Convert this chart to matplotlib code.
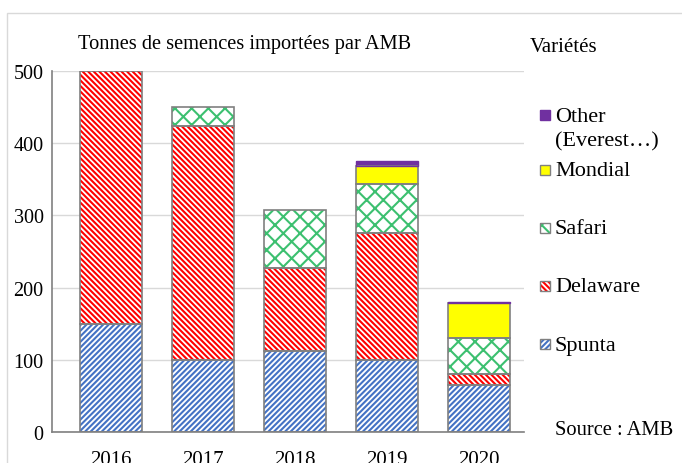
import matplotlib
matplotlib.use("Agg")
import matplotlib.pyplot as plt
from matplotlib.patches import Rectangle
import numpy as np

plt.rcParams['font.family'] = ['Liberation Serif', 'DejaVu Serif']
plt.rcParams['hatch.linewidth'] = 1.5

years = ["2016", "2017", "2018", "2019", "2020"]
spunta = [150, 100, 112, 100, 65]
delaware = [350, 324, 115, 175, 15]
safari = [0, 26, 81, 68, 50]
mondial = [0, 0, 0, 25, 48]
other = [0, 0, 0, 8, 2]

series = [
    ("Spunta", spunta, dict(face="white", hcol="#4472C4", hatch="//////")),
    ("Delaware", delaware, dict(face="white", hcol="#FF0000", hatch="\\\\\\\\\\\\")),
    ("Safari", safari, dict(face="white", hcol="#3CC070", hatch="xx")),
    ("Mondial", mondial, dict(face="#FFFF00", hcol=None, hatch=None)),
    ("Other (Everest…)", other, dict(face="#7030A0", hcol=None, hatch=None)),
]

fig = plt.figure(figsize=(6.82, 4.64), dpi=100)
ax = fig.add_axes([52/682, 1-433/464, (524-52)/682, (433-72)/464])

x = np.arange(len(years))
width = 0.67
bottom = np.zeros(len(years))
for name, vals, st in series:
    vals = np.array(vals, dtype=float)
    m = vals > 0
    xs, vs, bs = x[m], vals[m], bottom[m]
    if st["hatch"]:
        ax.bar(xs, vs, width, bottom=bs, color=st["face"], edgecolor=st["hcol"],
               hatch=st["hatch"], linewidth=0, zorder=2)
    else:
        ax.bar(xs, vs, width, bottom=bs, color=st["face"], linewidth=0, zorder=2)
    if name.startswith("Other"):
        ax.bar(xs, vs, width, bottom=bs, fill=False, edgecolor=st["face"], linewidth=1.0, zorder=3)
    else:
        ax.bar(xs, vs, width, bottom=bs, fill=False, edgecolor="#808080", linewidth=1.2, zorder=3)
    bottom += vals

ax.set_xlim(-0.64, 4.49)
ax.set_ylim(0, 500)
ax.set_yticks([0, 100, 200, 300, 400, 500])
ax.set_xticks(x)
ax.set_xticklabels(years)
ax.grid(axis='y', color="#D9D9D9", linewidth=1.0, zorder=0)
ax.set_axisbelow(True)
for s in ["top", "right"]:
    ax.spines[s].set_visible(False)
ax.spines["left"].set_color("#808080")
ax.spines["bottom"].set_color("#808080")
ax.spines["left"].set_linewidth(1.2)
ax.spines["bottom"].set_linewidth(1.2)
ax.tick_params(axis='y', length=0, labelsize=14.5, pad=6)
ax.tick_params(axis='x', length=0, labelsize=15, pad=13)

fig.text(78/682, 1-45/464, "Tonnes de semences importées par AMB", fontsize=14.7, va="center", ha="left")
fig.text(530/682, 1-48/464, "Variétés", fontsize=15, va="center", ha="left")
fig.text(555/682, 1-431/464, "Source : AMB", fontsize=14.8, va="center", ha="left")

# legend entries drawn manually in figure coords
leg_items = [
    (series[4][2], 117, "Other", True),
    (None, 142, "(Everest…)", False),
    (series[3][2], 172, "Mondial", False),
    (series[2][2], 230, "Safari", False),
    (series[1][2], 288, "Delaware", False),
    (series[0][2], 346, "Spunta", False),
]
for st, ypx, txt, noedge in leg_items:
    if st is not None:
        x0, y0 = 540/682, 1-(ypx+4)/464
        w, h = 10/682, 10/464
        fig.add_artist(Rectangle((x0, y0), w, h, transform=fig.transFigure,
                                 facecolor=st["face"], edgecolor="none"))
        if st["hatch"]:
            fig.add_artist(Rectangle((x0, y0), w, h, transform=fig.transFigure,
                                     facecolor="none", edgecolor=st["hcol"], hatch=st["hatch"], linewidth=0))
        fig.add_artist(Rectangle((x0, y0), w, h, transform=fig.transFigure,
                                 facecolor="none", edgecolor=(st["face"] if noedge else "#808080"), linewidth=1.0))
    fig.text(555/682, 1-ypx/464, txt, fontsize=16, va="center", ha="left")

# outer border
border = Rectangle((7/682, -0.05), 1.0, 1-14/464 + 0.05, transform=fig.transFigure,
                   facecolor="none", edgecolor="#D9D9D9", linewidth=1.0)
fig.add_artist(border)

fig.savefig("out.png", dpi=100)
